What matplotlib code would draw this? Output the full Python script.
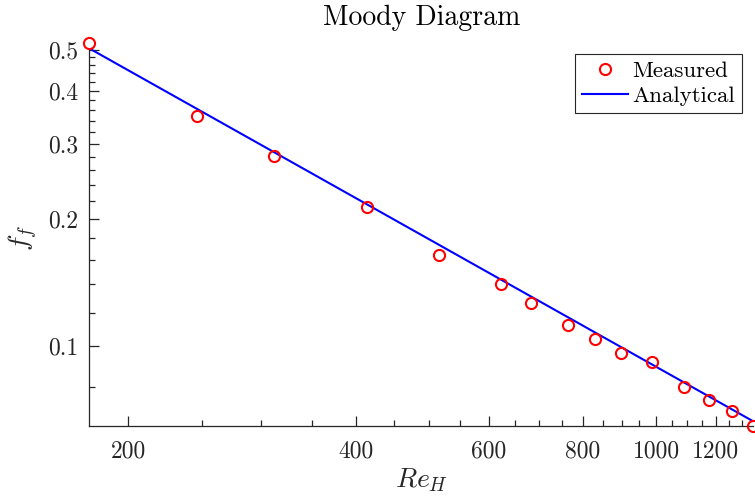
import matplotlib
matplotlib.use("Agg")
import matplotlib.pyplot as plt
from matplotlib.ticker import FixedLocator, FixedFormatter, NullFormatter
import numpy as np

plt.rcParams['font.family'] = 'cmr10'
plt.rcParams['mathtext.fontset'] = 'cm'
plt.rcParams['axes.formatter.use_mathtext'] = True

# measured friction factor vs hydraulic Reynolds number
re_meas = np.array([177.6, 246.4, 311.4, 413.4, 515.5, 622.8, 682.0, 763.6,
                    830.0, 897.6, 986.8, 1087.0, 1174.6, 1260.0, 1343.6])
f_meas = np.array([0.518, 0.349, 0.2804, 0.2127, 0.1644, 0.1405, 0.1269, 0.1125,
                   0.1040, 0.0966, 0.0919, 0.0802, 0.0747, 0.0703, 0.0648])

# laminar solution f = C / Re
f_coef = 89.5

x_major = [200, 400, 600, 800, 1000, 1200]
x_labels = ['200', '400', '600', '800', '1000', '1200']
x_minor = [250, 300, 350, 450, 500, 550, 650, 700, 750, 850, 900, 950,
           1050, 1100, 1150, 1250, 1300]
y_major = [0.1, 0.2, 0.3, 0.4, 0.5]
y_labels = ['0.1', '0.2', '0.3', '0.4', '0.5']
y_minor = [0.08, 0.12, 0.14, 0.16, 0.18, 0.22, 0.24, 0.26, 0.28,
           0.32, 0.34, 0.36, 0.38, 0.42, 0.44, 0.46, 0.48]

f_anal = f_coef / re_meas

gray = '#262626'

fig = plt.figure(figsize=(7.55, 4.99), dpi=100)
ax = fig.add_axes([0.1185, 0.1457, 0.8789, 0.7571])

ax.plot(re_meas, f_meas, 'o', mfc='none', mec='red', ms=8, mew=1.5,
        clip_on=False, label='Measured', zorder=3)
ax.plot(re_meas, f_anal, '-', color='blue', lw=1.5, label='Analytical')

ax.set_xscale('log')
ax.set_yscale('log')
ax.set_xlim(re_meas.min(), re_meas.max())
ax.set_ylim(f_meas.min(), f_anal.max())

ax.xaxis.set_major_locator(FixedLocator(x_major))
ax.xaxis.set_major_formatter(FixedFormatter(x_labels))
ax.xaxis.set_minor_locator(FixedLocator(x_minor))
ax.xaxis.set_minor_formatter(NullFormatter())
ax.yaxis.set_major_locator(FixedLocator(y_major))
ax.yaxis.set_major_formatter(FixedFormatter(y_labels))
ax.yaxis.set_minor_locator(FixedLocator(y_minor))
ax.yaxis.set_minor_formatter(NullFormatter())

for side in ['top', 'right']:
    ax.spines[side].set_visible(False)
for side in ['left', 'bottom']:
    ax.spines[side].set_color(gray)
    ax.spines[side].set_linewidth(0.9)

ax.tick_params(which='both', direction='in', color=gray, labelcolor=gray,
               labelsize=17, width=0.9)
ax.tick_params(axis='x', which='major', length=7, pad=10)
ax.tick_params(axis='y', which='major', length=7, pad=8)
ax.tick_params(which='minor', length=4)

ax.set_title('Moody Diagram', fontsize=20, pad=17)
ax.set_xlabel('$Re_H$', fontsize=20, color=gray, labelpad=3)
ax.set_ylabel('$f_f$', fontsize=20, color=gray, labelpad=6)

leg = ax.legend(loc='upper right', bbox_to_anchor=(0.983, 0.985), fontsize=16.5,
                frameon=True, fancybox=False, framealpha=1, handlelength=2.0,
                handletextpad=0.2, borderpad=0.3, labelspacing=0.2,
                borderaxespad=0)
leg.get_frame().set_edgecolor(gray)
leg.get_frame().set_linewidth(0.8)

fig.savefig('out.png', dpi=100)
